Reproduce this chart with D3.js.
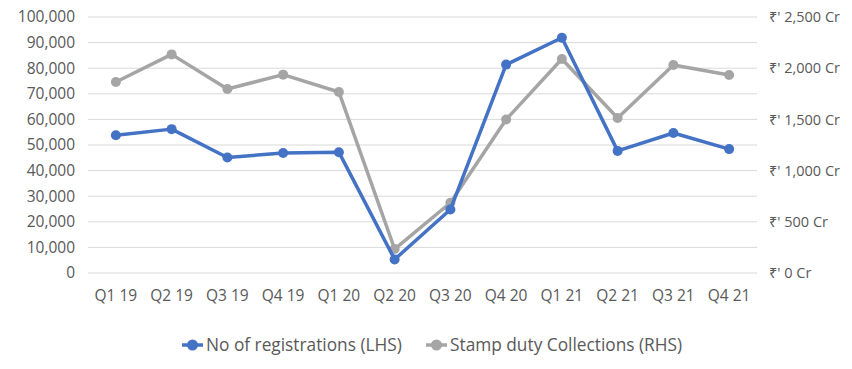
<!DOCTYPE html>
<html>
<head>
<meta charset="utf-8">
<script src="https://cdn.jsdelivr.net/npm/d3@7"></script>
<style>
  body { margin: 0; background: #fff; }
  text { font-family: "Open Sans", "Noto Sans", sans-serif; fill: #595959; }
</style>
</head>
<body>
<div id="chart"></div>
<script>
// data
var quarters = ["Q1 19","Q2 19","Q3 19","Q4 19","Q1 20","Q2 20","Q3 20","Q4 20","Q1 21","Q2 21","Q3 21","Q4 21"];
var registrations = [53800, 56200, 45100, 46900, 47200, 5300, 24800, 81400, 91900, 47700, 54700, 48400];
var stampDuty = [1865, 2135, 1797, 1937, 1768, 234, 686, 1499, 2090, 1514, 2031, 1934];
var leftTicks = [0,10000,20000,30000,40000,50000,60000,70000,80000,90000,100000];
var rightTicks = [0,500,1000,1500,2000,2500];
var seriesNames = ["No of registrations (LHS)", "Stamp duty Collections (RHS)"];
var colors = ["#4472C4", "#A5A5A5"];

var width = 852, height = 369;
var margin = {top: 17, right: 95, bottom: 96, left: 88};
var fs = 15.5;

var svg = d3.select("#chart").append("svg")
    .attr("width", width)
    .attr("height", height);

var x = d3.scaleBand()
    .domain(quarters)
    .range([margin.left, width - margin.right]);

var yL = d3.scaleLinear().domain([0, 100000]).range([height - margin.bottom, margin.top]);
var yR = d3.scaleLinear().domain([0, 2500]).range([height - margin.bottom, margin.top]);

// gridlines
svg.append("g")
    .selectAll("line")
    .data(leftTicks)
    .join("line")
    .attr("x1", margin.left)
    .attr("x2", width - margin.right)
    .attr("y1", d => yL(d))
    .attr("y2", d => yL(d))
    .attr("stroke", "#d9d9d9")
    .attr("stroke-width", 1);

// left axis
var leftAxis = svg.append("g")
    .attr("transform", "translate(" + (margin.left - 10) + ",0)")
    .call(d3.axisLeft(yL).tickValues(leftTicks).tickSize(0).tickFormat(d3.format(",")));
leftAxis.select(".domain").remove();
leftAxis.selectAll("text").attr("font-size", fs).attr("fill", "#595959");

// right axis
var rightAxis = svg.append("g")
    .attr("transform", "translate(" + (width - margin.right + 9) + ",0)")
    .call(d3.axisRight(yR).tickValues(rightTicks).tickSize(0)
        .tickFormat(d => "\u20B9' " + d3.format(",")(d) + " Cr"));
rightAxis.select(".domain").remove();
rightAxis.selectAll("text").attr("font-size", fs - 1).attr("fill", "#595959");

// x axis labels
var xAxis = svg.append("g")
    .attr("transform", "translate(0," + (height - margin.bottom) + ")")
    .call(d3.axisBottom(x).tickSize(0).tickPadding(17));
xAxis.select(".domain").remove();
xAxis.selectAll("text").attr("font-size", fs).attr("fill", "#595959");

function cx(d, i) { return x(quarters[i]) + x.bandwidth() / 2; }

var series = [
    {vals: registrations, y: yL, color: colors[0]},
    {vals: stampDuty, y: yR, color: colors[1]}
];

// grey drawn first so blue sits on top
[series[1], series[0]].forEach(function(s) {
    var line = d3.line()
        .x((d, i) => cx(d, i))
        .y(d => s.y(d));
    svg.append("path")
        .datum(s.vals)
        .attr("d", line)
        .attr("fill", "none")
        .attr("stroke", s.color)
        .attr("stroke-width", 3.5)
        .attr("stroke-linejoin", "round");
    svg.append("g").selectAll("circle")
        .data(s.vals)
        .join("circle")
        .attr("cx", (d, i) => cx(d, i))
        .attr("cy", d => s.y(d))
        .attr("r", 5)
        .attr("fill", s.color);
});

// legend
var legendY = 345;
var legend = svg.append("g");
var lx = [182, 426];
seriesNames.forEach(function(name, i) {
    var g = legend.append("g").attr("transform", "translate(" + lx[i] + "," + legendY + ")");
    g.append("line").attr("x1", 0).attr("x2", 21).attr("y1", 0).attr("y2", 0)
        .attr("stroke", colors[i]).attr("stroke-width", 3.5);
    g.append("circle").attr("cx", 10.5).attr("cy", 0).attr("r", 5.5).attr("fill", colors[i]);
    g.append("text").attr("x", 24).attr("y", 0).attr("dy", "0.35em")
        .attr("font-size", 17.3).text(name);
});
</script>
</body>
</html>
